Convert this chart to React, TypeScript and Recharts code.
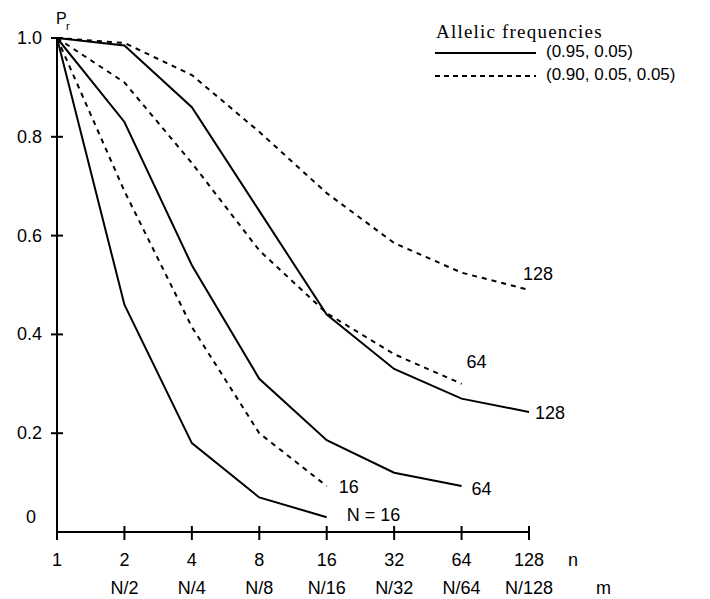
import React from "react";
import { LineChart, Line, XAxis, YAxis, LabelList } from "recharts";

const nValues = [1, 2, 4, 8, 16, 32, 64, 128];
const mLabels = ["", "N/2", "N/4", "N/8", "N/16", "N/32", "N/64", "N/128"];
const yTicks = [0, 0.2, 0.4, 0.6, 0.8, 1.0];

const solid16 = [1.0, 0.46, 0.18, 0.07, 0.03];
const dashed16 = [1.0, 0.69, 0.415, 0.2, 0.093];
const solid64 = [1.0, 0.83, 0.54, 0.31, 0.186, 0.12, 0.093];
const dashed64 = [1.0, 0.91, 0.747, 0.57, 0.443, 0.36, 0.3];
const solid128 = [1.0, 0.985, 0.86, 0.65, 0.44, 0.33, 0.27, 0.243];
const dashed128 = [1.0, 0.99, 0.925, 0.81, 0.686, 0.585, 0.525, 0.49];

const seriesNames = ["solid16", "dashed16", "solid64", "dashed64", "solid128", "dashed128"];
const seriesValues = [solid16, dashed16, solid64, dashed64, solid128, dashed128];
const seriesLabels = ["N = 16", "16", "64", "64", "128", "128"];
const legendTitle = "Allelic frequencies";
const legendItems = ["(0.95, 0.05)", "(0.90, 0.05, 0.05)"];

const data = nValues.map((n, i) => {
  const row: any = { i, n };
  seriesNames.forEach((name, k) => {
    const v = seriesValues[k][i];
    if (v !== undefined) row[name] = v;
  });
  return row;
});

const FONT = "'Liberation Sans', Arial, sans-serif";
const SERIF = "'Liberation Serif', 'Times New Roman', serif";

const labelOffsets: Record<string, [number, number]> = {
  solid16: [20, 4],
  dashed16: [12, 7],
  solid64: [10, 9],
  dashed64: [5, -16],
  solid128: [6, 7],
  dashed128: [-6, -10],
};

const makeLabel = (name: string, text: string, len: number) => (props: any) => {
  const { x, y, index } = props;
  if (index !== len - 1) return null;
  const [dx, dy] = labelOffsets[name];
  return (
    <text x={x + dx} y={y + dy} fontFamily={FONT} fontSize={18} fill="#000" textAnchor="start">
      {text}
    </text>
  );
};

const XTick = (props: any) => {
  const { x, y, payload } = props;
  const idx = payload.value;
  return (
    <g>
      <line x1={x} x2={x} y1={y - 6} y2={y + 8} stroke="#000" strokeWidth={2} />
      <text x={x} y={y + 34} textAnchor="middle" fontFamily={FONT} fontSize={18} fill="#000">
        {nValues[idx]}
      </text>
      {mLabels[idx] ? (
        <text x={x} y={y + 62} textAnchor="middle" fontFamily={FONT} fontSize={18} fill="#000">
          {mLabels[idx]}
        </text>
      ) : null}
    </g>
  );
};

const YTick = (props: any) => {
  const { x, y, payload } = props;
  const v = payload.value;
  const isZero = v === 0;
  return (
    <g>
      {!isZero && <line x1={x - 6} x2={x + 6} y1={y} y2={y} stroke="#000" strokeWidth={2} />}
      <text
        x={isZero ? x - 21 : x - 15}
        y={isZero ? y - 9 : y + 6}
        textAnchor="end"
        fontFamily={FONT}
        fontSize={18}
        fill="#000"
      >
        {isZero ? "0" : v.toFixed(1)}
      </text>
    </g>
  );
};

export default function App() {
  return (
    <div style={{ width: 710, height: 599, background: "#fff", position: "relative" }}>
      <style>{`body{margin:0;background:#fff}`}</style>
      <LineChart
        width={710}
        height={599}
        data={data}
        margin={{ top: 38, right: 181, bottom: 17, left: 12 }}
      >
        <XAxis
          dataKey="i"
          type="number"
          domain={[0, 7]}
          ticks={[0, 1, 2, 3, 4, 5, 6, 7]}
          height={50}
          axisLine={{ stroke: "#000", strokeWidth: 2 }}
          tickLine={false}
          tickSize={0}
          tickMargin={0}
          tick={<XTick />}
          interval={0}
        />
        <YAxis
          type="number"
          domain={[0, 1]}
          ticks={yTicks}
          width={45}
          axisLine={{ stroke: "#000", strokeWidth: 2 }}
          tickLine={false}
          tickSize={0}
          tickMargin={0}
          tick={<YTick />}
          interval={0}
        />
        {seriesNames.map((name, k) => (
          <Line
            key={name}
            dataKey={name}
            type="linear"
            stroke="#000"
            strokeWidth={2}
            strokeDasharray={name.startsWith("dashed") ? "5 5" : undefined}
            dot={false}
            activeDot={false}
            isAnimationActive={false}
          >
            <LabelList dataKey={name} content={makeLabel(name, seriesLabels[k], seriesValues[k].length) as any} />
          </Line>
        ))}
      </LineChart>
      <svg width={710} height={599} style={{ position: "absolute", left: 0, top: 0, pointerEvents: "none" }}>
        <text x={56} y={24} fontFamily={FONT} fontSize={16} fill="#000">P</text>
        <text x={66} y={30} fontFamily={FONT} fontSize={11} fill="#000">r</text>
        <text x={568} y={566} fontFamily={FONT} fontSize={18} fill="#000">n</text>
        <text x={596} y={594} fontFamily={FONT} fontSize={18} fill="#000">m</text>
        <g transform="translate(433,0)">
          <text x={3} y={38} fontFamily={SERIF} fontSize={19} letterSpacing={1.2} fill="#000">
            {legendTitle}
          </text>
          <line x1={2} x2={103} y1={53} y2={53} stroke="#000" strokeWidth={2} />
          <text x={113} y={57} fontFamily={FONT} fontSize={17} fill="#000">
            {legendItems[0]}
          </text>
          <line x1={2} x2={103} y1={76} y2={76} stroke="#000" strokeWidth={2} strokeDasharray="5 4" />
          <text x={113} y={80} fontFamily={FONT} fontSize={17} fill="#000">
            {legendItems[1]}
          </text>
        </g>
      </svg>
    </div>
  );
}
